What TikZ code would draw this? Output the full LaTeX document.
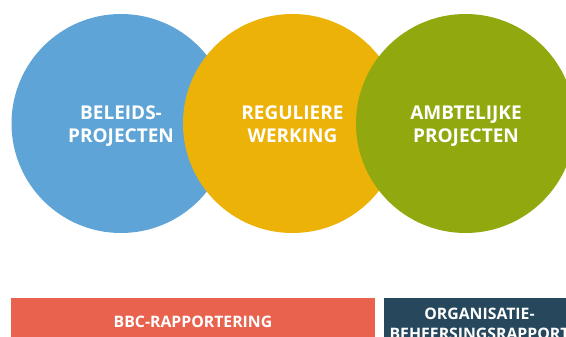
\documentclass[tikz,border=0pt]{standalone}
\usepackage{fontspec}
\setmainfont{Open Sans}
\definecolor{cblue}{HTML}{5FA4D6}
\definecolor{cyellow}{HTML}{EDB207}
\definecolor{cgreen}{HTML}{91A90F}
\definecolor{cred}{HTML}{E9624E}
\definecolor{cdark}{HTML}{26475C}
\tikzset{
  bubble/.style={circle, minimum size=219pt, inner sep=0pt},
  bubbletext/.style={text=white, inner sep=0pt, anchor=base, font=\bfseries\fontsize{19}{23}\selectfont},
  bartext/.style={text=white, inner sep=0pt, anchor=base, font=\bfseries\fontsize{15.8}{20}\selectfont},
}
\begin{document}
\begin{tikzpicture}[x=1pt,y=-1pt]
\useasboundingbox (0,0) rectangle (566,337);
\clip (0,0) rectangle (566,337);
\node[bubble, fill=cblue] (beleid) at (121,123.5) {};
\node[bubble, fill=cyellow] (regulier) at (292.5,123.5) {};
\node[bubble, fill=cgreen] (ambt) at (465.5,123.5) {};
\node[bubbletext] (t1a) at (121,119.8) {BELEIDS-};
\node[bubbletext] (t1b) at (121,142.8) {PROJECTEN};
\node[bubbletext] (t2a) at (292.5,119.8) {REGULIERE};
\node[bubbletext] (t2b) at (292.5,142.8) {WERKING};
\node[bubbletext] (t3a) at (466,119.8) {AMBTELIJKE};
\node[bubbletext] (t3b) at (466,142.8) {PROJECTEN};
\fill[cred] (11,298) rectangle (375,340);
\fill[cdark] (384,298) rectangle (580,340);
\node[bartext] (bbc) at (193,327) {BBC-RAPPORTERING};
\node[bartext] (orga) at (479.5,319.5) {ORGANISATIE-};
\node[bartext] (orgb) at (479.5,339.5) {BEHEERSINGSRAPPORT};
\end{tikzpicture}
\end{document}
